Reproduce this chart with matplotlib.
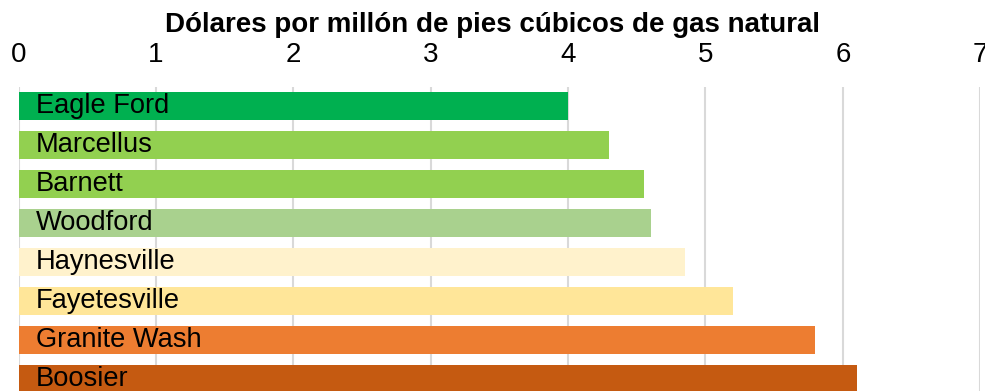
import matplotlib
matplotlib.use("Agg")
import matplotlib.pyplot as plt

plays = ["Eagle Ford", "Marcellus", "Barnett", "Woodford",
         "Haynesville", "Fayetesville", "Granite Wash", "Boosier"]
costs = [4.0, 4.3, 4.55, 4.6, 4.85, 5.2, 5.8, 6.1]
colors = ["#00b050", "#92d050", "#92d050", "#a9d18e",
          "#fff2cc", "#ffe699", "#ed7d31", "#c55a11"]
ticks = [0, 1, 2, 3, 4, 5, 6, 7]
title = "Dólares por millón de pies cúbicos de gas natural"

plt.rcParams["font.family"] = ["Liberation Sans", "DejaVu Sans"]

W, H = 985, 391
fig = plt.figure(figsize=(W / 100, H / 100), dpi=100)
left, right = 18.5 / W, 980.3 / W
top, bottom = 1 - 86.5 / H, -7.5 / H
ax = fig.add_axes([left, bottom, right - left, top - bottom])

pos = list(range(len(plays)))
ax.barh(pos, costs, height=0.71, color=colors, zorder=2)
for p, name in zip(pos, plays):
    ax.annotate(name, (0, p), xytext=(17, 0), textcoords="offset pixels",
                va="center", ha="left", fontsize=19.6, color="black", zorder=3)

ax.set_xlim(0, 7)
ax.set_ylim(len(plays) - 0.5, -0.5)
ax.set_xticks(ticks)
ax.set_xticklabels([str(t) for t in ticks])
ax.xaxis.tick_top()
ax.tick_params(axis="x", length=0, pad=13, labelsize=20)
ax.set_yticks([])
for s in ax.spines.values():
    s.set_visible(False)
ax.grid(axis="x", color="#d9d9d9", linewidth=1.5, zorder=0)
ax.set_axisbelow(True)

fig.text(0.5, 1 - 32 / H, title, ha="center", va="baseline",
         fontsize=20, fontweight="bold")

fig.savefig("out.png", dpi=100)
